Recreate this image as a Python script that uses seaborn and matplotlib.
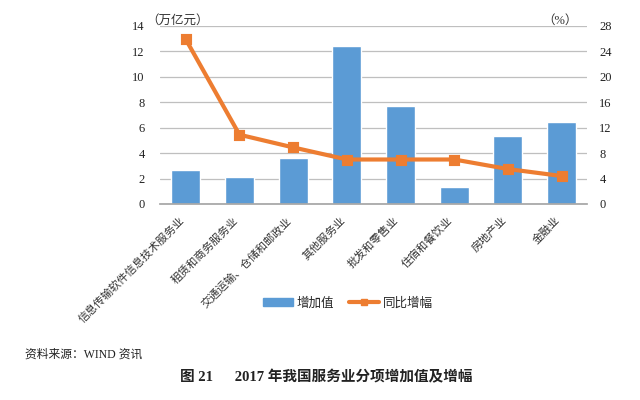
import matplotlib
matplotlib.use("Agg")
import matplotlib.pyplot as plt
import matplotlib.transforms as mtransforms
import seaborn as sns
import pandas as pd
from matplotlib.lines import Line2D
from matplotlib.patches import Patch

categories = ["信息传输软件信息技术服务业", "租赁和商务服务业", "交通运输、仓储和邮政业",
              "其他服务业", "批发和零售业", "住宿和餐饮业", "房地产业", "金融业"]
added_value = [2.67, 2.12, 3.62, 12.4, 7.7, 1.34, 5.35, 6.45]
growth = [25.9, 10.9, 8.9, 7.0, 7.0, 7.0, 5.5, 4.4]
left_ticks = [0, 2, 4, 6, 8, 10, 12, 14]
right_ticks = [0, 4, 8, 12, 16, 20, 24, 28]

sns.set_theme(style="white")
fonts = ["Liberation Serif", "Noto Sans CJK SC", "DejaVu Sans"]
plt.rcParams["font.family"] = fonts

blue = "#5B9BD5"
orange = "#ED7D31"

df = pd.DataFrame({"cat": categories, "val": added_value, "g": growth})

fig = plt.figure(figsize=(6.4, 4.0), dpi=100)
ax = fig.add_axes([0.25, 0.49, 0.667, 0.445])
sns.barplot(data=df, x="cat", y="val", color=blue, width=0.54, saturation=1, ax=ax, zorder=2)
ax.set_ylim(0, 14)
ax.set_yticks(left_ticks)
ax.set_xlim(-0.48, 7.47)
ax.yaxis.grid(True, color="#BFBFBF", linewidth=0.9, zorder=0)
ax.set_axisbelow(True)
for s in ["left", "right", "top"]:
    ax.spines[s].set_visible(False)
ax.spines["bottom"].set_color("#A6A6A6")
ax.set_xlabel("")
ax.set_ylabel("")
ax.tick_params(axis="y", length=0, labelsize=9, pad=11, colors="#222222")
ax.tick_params(axis="x", length=0, pad=8)
ax.set_xticks(range(len(categories)))
ax.set_xticklabels(categories, rotation=45, ha="right", rotation_mode="anchor",
                   fontsize=8, color="#333333")
shift = mtransforms.ScaledTranslation(-7 / 100, 0, fig.dpi_scale_trans)
for lbl in ax.get_xticklabels():
    lbl.set_transform(lbl.get_transform() + shift)

ax2 = ax.twinx()
sns.pointplot(data=df, x="cat", y="g", color=orange, markers="s", ax=ax2,
              linewidth=3, markersize=6, errorbar=None)
ax2.set_ylim(0, 28)
ax2.set_yticks(right_ticks)
ax2.set_xlim(-0.48, 7.47)
for s in ["left", "right", "top", "bottom"]:
    ax2.spines[s].set_visible(False)
ax2.set_ylabel("")
ax2.set_xlabel("")
ax2.tick_params(axis="y", length=0, labelsize=9, pad=9, colors="#222222")

fig.text(0.228, 0.948, "（万亿元）", fontsize=9, ha="left", va="center", color="#333333")
fig.text(0.875, 0.948, "（%）", fontsize=9, ha="center", va="center", color="#333333")

handles = [Patch(color=blue),
           Line2D([0], [0], color=orange, lw=3, marker="s", markersize=5)]
fig.legend(handles, ["增加值", "同比增幅"], loc="center", bbox_to_anchor=(0.543, 0.242),
           ncol=2, frameon=False, fontsize=9, handlelength=2.4, columnspacing=1.2,
           handletextpad=0.3)

fig.text(0.039, 0.1125, "资料来源：WIND 资讯", fontsize=8.5, ha="left", va="center", color="#222222")
fig.text(0.51, 0.0575, "图 21      2017 年我国服务业分项增加值及增幅", fontsize=10.5,
         ha="center", va="center", fontweight="bold", color="#222222")

fig.savefig("out.png", dpi=100)
